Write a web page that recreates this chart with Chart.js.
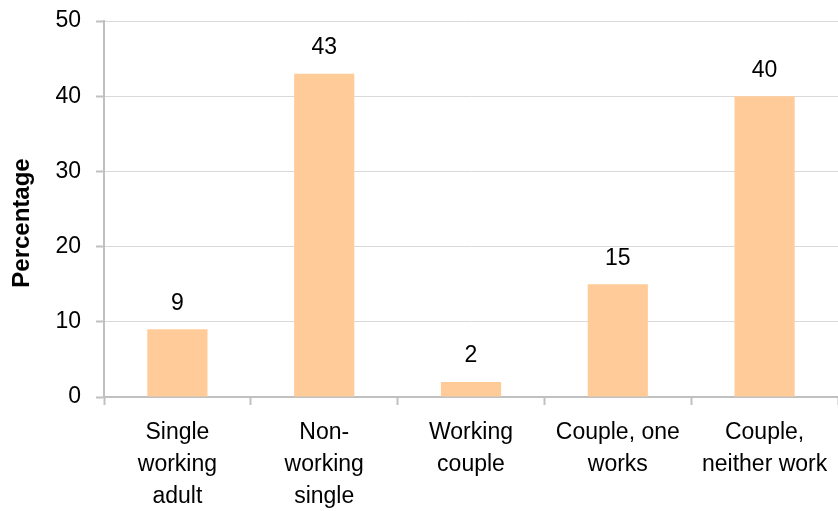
<!DOCTYPE html>
<html>
<head>
<meta charset="utf-8">
<script src="https://cdn.jsdelivr.net/npm/chart.js@4/dist/chart.umd.min.js"></script>
<style>
html,body{margin:0;padding:0;background:#fff;}
#wrap{width:838px;height:511px;}
</style>
</head>
<body>
<div id="wrap"><canvas id="c" width="838" height="511"></canvas></div>
<script>
const categories = [
  ["Single", "working", "adult"],
  ["Non-", "working", "single"],
  ["Working", "couple"],
  ["Couple, one", "works"],
  ["Couple,", "neither work"]
];
const percentages = [9, 43, 2, 15, 40];
const yTicks = [0, 10, 20, 30, 40, 50];
const yTitle = "Percentage";

const FONT = '"Liberation Sans", Arial, sans-serif';

const valueLabels = {
  id: 'valueLabels',
  afterDatasetsDraw(chart) {
    const ctx = chart.ctx;
    const meta = chart.getDatasetMeta(0);
    ctx.save();
    ctx.font = '23px ' + FONT;
    ctx.fillStyle = '#000';
    ctx.textAlign = 'center';
    ctx.textBaseline = 'middle';
    meta.data.forEach((bar, i) => {
      ctx.fillText(String(percentages[i]), bar.x, bar.y - 26);
    });
    ctx.restore();
  }
};

const axisTitle = {
  id: 'axisTitle',
  afterDraw(chart) {
    const ctx = chart.ctx;
    const area = chart.chartArea;
    ctx.save();
    ctx.translate(22, (area.top + area.bottom) / 2 + 14);
    ctx.rotate(-Math.PI / 2);
    ctx.font = 'bold 24px ' + FONT;
    ctx.fillStyle = '#000';
    ctx.textAlign = 'center';
    ctx.textBaseline = 'middle';
    ctx.fillText(yTitle, 0, 0);
    ctx.restore();
  }
};

new Chart(document.getElementById('c'), {
  type: 'bar',
  data: {
    labels: categories,
    datasets: [{
      data: percentages,
      backgroundColor: '#FFCC99',
      borderWidth: 0,
      categoryPercentage: 1,
      barPercentage: 0.41
    }]
  },
  options: {
    responsive: false,
    animation: false,
    devicePixelRatio: 1,
    layout: { padding: { top: 21, right: 0, left: 0, bottom: 0 } },
    plugins: { legend: { display: false }, tooltip: { enabled: false } },
    scales: {
      x: {
        grid: {
          offset: true,
          drawOnChartArea: false,
          drawTicks: true,
          tickLength: 8,
          tickColor: '#c0c0c0',
          tickWidth: 2
        },
        border: { color: '#c0c0c0', width: 2 },
        ticks: {
          color: '#000',
          padding: 12,
          maxRotation: 0,
          autoSkip: false,
          font: { family: FONT, size: 23, lineHeight: 1.39 }
        },
        afterFit(scale) { scale.height = 114; scale.paddingLeft = 0; scale.paddingRight = 0; }
      },
      y: {
        min: 0,
        max: 50,
        afterBuildTicks(scale) { scale.ticks = yTicks.map(v => ({ value: v })); },
        grid: {
          color: '#d9d9d9',
          borderDash: [2, 2],
          lineWidth: 1,
          drawTicks: true,
          tickLength: 8,
          tickColor: '#c0c0c0',
          tickWidth: 2,
          tickBorderDash: []
        },
        border: { color: '#c0c0c0', width: 2 },
        ticks: {
          color: '#000',
          padding: 15,
          font: { family: FONT, size: 23 }
        },
        title: { display: false },
        afterFit(scale) { scale.width = 104; scale.paddingTop = 0; scale.paddingBottom = 0; }
      }
    }
  },
  plugins: [valueLabels, axisTitle]
});
</script>
</body>
</html>
